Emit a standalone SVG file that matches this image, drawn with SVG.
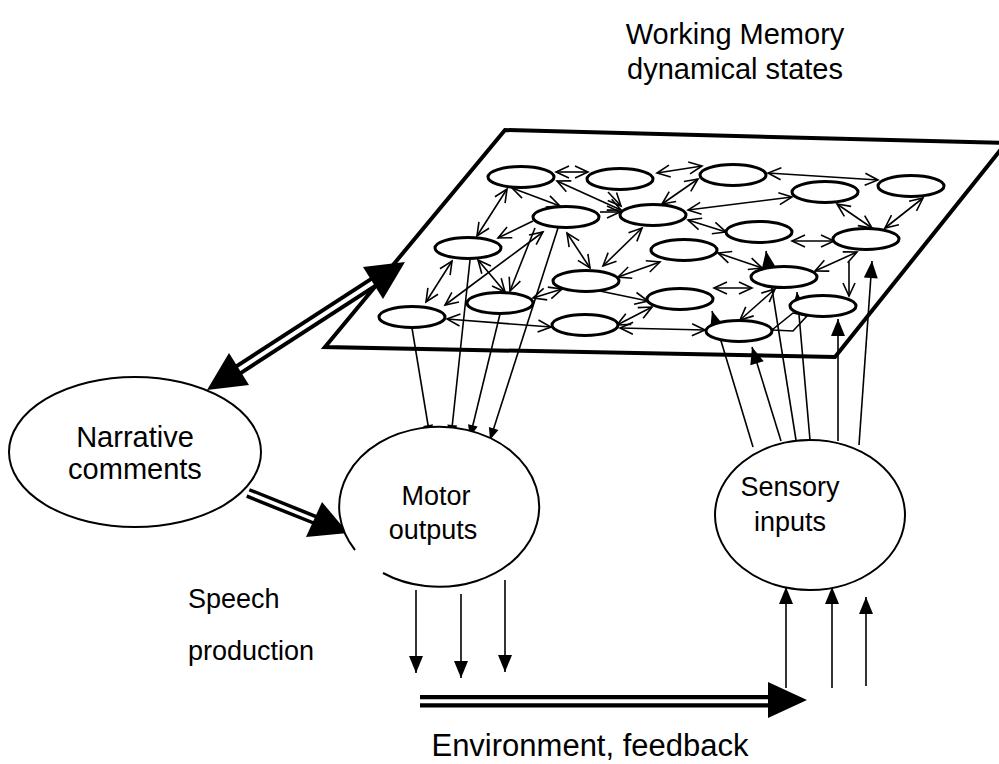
<svg xmlns="http://www.w3.org/2000/svg" width="999" height="764" viewBox="0 0 999 764">
<defs>
<style>
.lbl{font-family:"Liberation Sans",Arial,sans-serif;font-size:29px;fill:#000}
.sm{font-size:27px}
.env{font-size:31px}
.big{fill:#fff;stroke:#000;stroke-width:2}
.wm{fill:#fff;stroke:#000;stroke-width:3}
.net line,.net path{stroke:#000;stroke-width:1.6;fill:none}
.bi{marker-start:url(#oa);marker-end:url(#oa)}
.one{marker-end:url(#oa)}
.io line{stroke:#000;stroke-width:1.6;marker-end:url(#fa)}
.io2 line{stroke:#000;stroke-width:1.6;marker-end:url(#fb)}
</style>
<marker id="oa" markerUnits="userSpaceOnUse" viewBox="0 0 15 13" markerWidth="15" markerHeight="13" refX="14" refY="6.5" orient="auto-start-reverse" overflow="visible">
<path d="M1,0.5 L14,6.5 L1,12.5" fill="none" stroke="#000" stroke-width="1.6"/>
</marker>
<marker id="fa" markerUnits="userSpaceOnUse" viewBox="0 0 17 14" markerWidth="17" markerHeight="14" refX="17" refY="7" orient="auto" overflow="visible">
<path d="M0,0 L17,7 L0,14 z" fill="#000"/>
</marker>
<marker id="fb" markerUnits="userSpaceOnUse" viewBox="0 0 12 10" markerWidth="12" markerHeight="10" refX="12" refY="5" orient="auto" overflow="visible">
<path d="M0,0 L12,5 L0,10 z" fill="#000"/>
</marker>
</defs>
<rect width="999" height="764" fill="#fff"/>

<text class="lbl" x="735" y="44" text-anchor="middle">Working Memory</text>
<text class="lbl" x="735" y="79" text-anchor="middle">dynamical states</text>

<g id="plane">
<polygon points="325,347 505,130 1006,143 835,357" fill="#fff" stroke="#000" stroke-width="4"/>
</g>

<g id="connectors">
<g class="net">
<line class="bi" x1="556" y1="172" x2="588" y2="172"/>
<line class="bi" x1="512" y1="188" x2="560" y2="206"/>
<line class="bi" x1="557" y1="181" x2="621" y2="210"/>
<line class="bi" x1="507" y1="189" x2="477" y2="236"/>
<line class="one" x1="533" y1="221" x2="498" y2="238"/>
<line class="bi" x1="657" y1="173" x2="702" y2="166"/>
<line class="bi" x1="662" y1="204" x2="698" y2="179"/>
<line class="bi" x1="768" y1="173" x2="878" y2="180"/>
<line class="bi" x1="688" y1="210" x2="792" y2="197"/>
<line class="bi" x1="688" y1="220" x2="726" y2="232"/>
<line class="one" x1="608" y1="192" x2="621" y2="206"/>
<line class="one" x1="600" y1="212" x2="620" y2="212"/>
<line class="bi" x1="792" y1="241" x2="834" y2="241"/>
<line class="bi" x1="837" y1="204" x2="872" y2="228"/>
<line class="bi" x1="923" y1="198" x2="885" y2="228"/>
<line class="bi" x1="857" y1="252" x2="815" y2="271"/>
<line class="bi" x1="718" y1="253" x2="762" y2="268"/>
<line class="bi" x1="714" y1="288" x2="752" y2="288"/>
<line class="bi" x1="775" y1="289" x2="740" y2="320"/>
<line class="one" x1="849" y1="262" x2="849" y2="296"/>
<line class="bi" x1="620" y1="328" x2="705" y2="330"/>
<line class="bi" x1="447" y1="319" x2="551" y2="327"/>
<line class="bi" x1="452" y1="261" x2="426" y2="302"/>
<line class="bi" x1="478" y1="260" x2="505" y2="292"/>
<line class="bi" x1="543" y1="232" x2="445" y2="305"/>
<line class="one" x1="535" y1="228" x2="510" y2="291"/>
<line class="bi" x1="567" y1="233" x2="590" y2="268"/>
<line class="bi" x1="603" y1="266" x2="642" y2="228"/>
<line class="bi" x1="618" y1="277" x2="660" y2="262"/>
<line class="one" x1="595" y1="290" x2="648" y2="301"/>
<line class="bi" x1="533" y1="298" x2="562" y2="289"/>
<line class="bi" x1="617" y1="325" x2="652" y2="307"/>
<path d="M772,330 L793,331 L807,316 L793,313 Z"/>
</g>
<g class="io2">
<line x1="412" y1="328" x2="430" y2="437"/>
<line x1="470" y1="260" x2="451" y2="437"/>
<line x1="500" y1="314" x2="470" y2="437"/>
<line x1="558" y1="228" x2="490" y2="440"/>
</g>
<g class="io">
<line x1="753" y1="447" x2="712" y2="311"/>
<line x1="781" y1="441" x2="752" y2="347"/>
<line x1="796" y1="440" x2="766" y2="251"/>
<line x1="810" y1="440" x2="797" y2="292"/>
<line x1="838" y1="441" x2="838" y2="319"/>
<line x1="859" y1="445" x2="872" y2="261"/>
</g>
<g class="io">
<line x1="416" y1="590" x2="416" y2="673"/>
<line x1="461" y1="594" x2="461" y2="678"/>
<line x1="505" y1="580" x2="505" y2="672"/>
</g>
<g class="io">
<line x1="786" y1="688" x2="786" y2="587"/>
<line x1="832" y1="688" x2="832" y2="587"/>
<line x1="866" y1="686" x2="866" y2="597"/>
</g>
<g id="dbl1">
<line x1="235" y1="372" x2="377" y2="280" stroke="#000" stroke-width="12"/>
<line x1="232" y1="374" x2="380" y2="278" stroke="#fff" stroke-width="4"/>
<polygon points="207,390 249,385 229,353" fill="#000"/>
<polygon points="405,262 383,299 363,267" fill="#000"/>
</g>
<g id="dbl2">
<line x1="248" y1="493" x2="318" y2="521" stroke="#000" stroke-width="10.5"/>
<line x1="246" y1="492" x2="320" y2="522" stroke="#fff" stroke-width="3.5"/>
<polygon points="348,533 322,502 306,537" fill="#000"/>
</g>
<g id="dbl3">
<line x1="420" y1="701.3" x2="772" y2="701.3" stroke="#000" stroke-width="12.5"/>
<line x1="418" y1="701.3" x2="772" y2="701.3" stroke="#fff" stroke-width="4"/>
<polygon points="807,700 768,682 768,718" fill="#000"/>
</g>
</g>

<g id="wm-nodes">
<ellipse id="n1" class="wm" cx="521" cy="177" rx="33" ry="10.5"/>
<ellipse id="n2" class="wm" cx="620" cy="179" rx="33" ry="10.5"/>
<ellipse id="n3" class="wm" cx="566" cy="217" rx="33" ry="10.5"/>
<ellipse id="n4" class="wm" cx="653" cy="215" rx="33" ry="10.5"/>
<ellipse id="n5" class="wm" cx="733" cy="175" rx="33" ry="10.5"/>
<ellipse id="n6" class="wm" cx="825" cy="192" rx="33" ry="10.5"/>
<ellipse id="n7" class="wm" cx="911" cy="186" rx="33" ry="10.5"/>
<ellipse id="n8" class="wm" cx="866" cy="239" rx="33" ry="10.5"/>
<ellipse id="n9" class="wm" cx="759" cy="232" rx="33" ry="10.5"/>
<ellipse id="n10" class="wm" cx="468" cy="248" rx="33" ry="10.5"/>
<ellipse id="n11" class="wm" cx="500" cy="303" rx="33" ry="10.5"/>
<ellipse id="n12" class="wm" cx="412" cy="317" rx="33" ry="10.5"/>
<ellipse id="n13" class="wm" cx="586" cy="281" rx="33" ry="10.5"/>
<ellipse id="n14" class="wm" cx="585" cy="325" rx="33" ry="10.5"/>
<ellipse id="n15" class="wm" cx="680" cy="299" rx="33" ry="10.5"/>
<ellipse id="n16" class="wm" cx="684" cy="250" rx="33" ry="10.5"/>
<ellipse id="n17" class="wm" cx="784" cy="277" rx="33" ry="10.5"/>
<ellipse id="n18" class="wm" cx="823" cy="306" rx="33" ry="10.5"/>
<ellipse id="n19" class="wm" cx="739" cy="331" rx="33" ry="10.5"/>
</g>

<g id="narrative">
<ellipse class="big" cx="135" cy="452" rx="126" ry="75"/>
<text class="lbl" x="135" y="447" text-anchor="middle">Narrative</text>
<text class="lbl" x="135" y="479" text-anchor="middle">comments</text>
</g>
<g id="motor">
<path class="big" d="M355,550 A100,80 0 1 1 383,573" fill="none"/>
<text class="lbl sm" x="436" y="505" text-anchor="middle">Motor</text>
<text class="lbl sm" x="433" y="539" text-anchor="middle">outputs</text>
</g>
<g id="sensory">
<ellipse class="big" cx="810" cy="515" rx="95" ry="75"/>
<text class="lbl sm" x="790" y="496" text-anchor="middle">Sensory</text>
<text class="lbl sm" x="790" y="531" text-anchor="middle">inputs</text>
</g>
<g id="labels">
<text class="lbl sm" x="188" y="608">Speech</text>
<text class="lbl sm" x="188" y="660">production</text>
<text class="lbl env" x="590" y="756" text-anchor="middle">Environment, feedback</text>
</g>
</svg>
